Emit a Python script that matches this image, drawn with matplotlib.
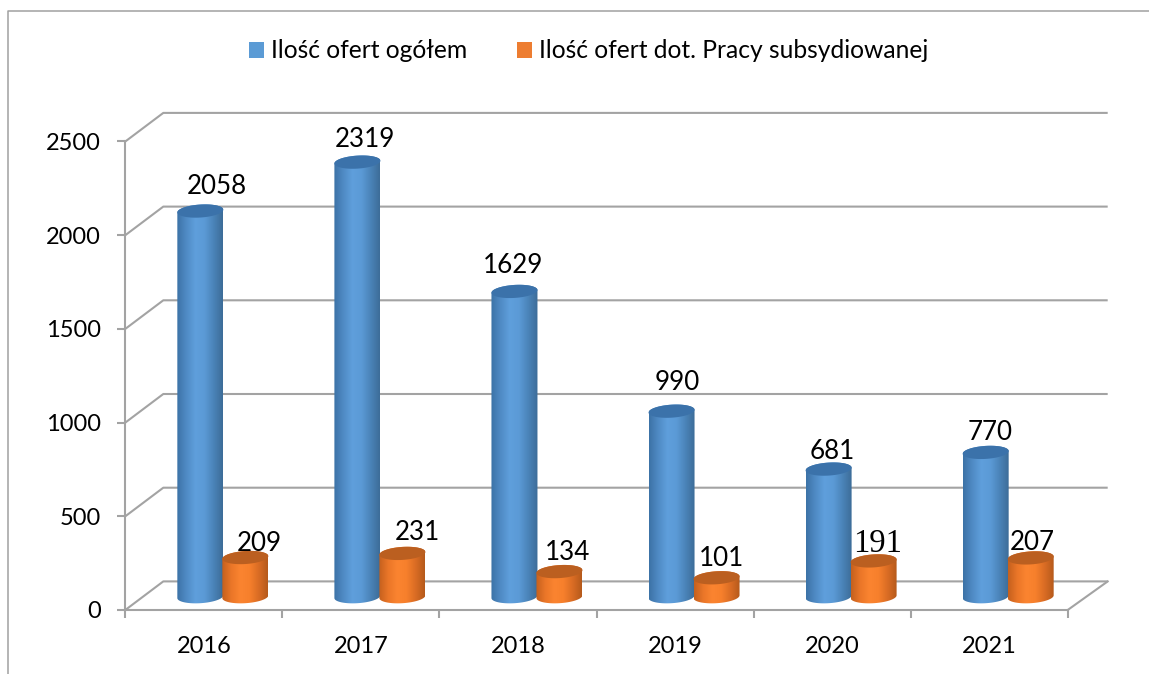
import numpy as np
import matplotlib
matplotlib.use("Agg")
import matplotlib.pyplot as plt
from matplotlib.colors import LinearSegmentedColormap
from matplotlib.lines import Line2D
from matplotlib.patches import Patch, Polygon

years = ["2016", "2017", "2018", "2019", "2020", "2021"]
total_offers = [2058, 2319, 1629, 990, 681, 770]
subsidised_offers = [209, 231, 134, 101, 191, 207]
y_ticks = [0, 500, 1000, 1500, 2000, 2500]
series_names = ["Ilość ofert ogółem", "Ilość ofert dot. Pracy subsydiowanej"]

total_label_shift = [(16, 25), (8, 23), (-1, 26), (6, 29), (4, 18), (4, 20)]
subs_label_shift = [(14, 14), (15, 21), (8, 19), (5, 19), (4, 17), (2, 15)]

W, H = 1149, 674
plt.rcParams["font.family"] = ["Lato", "DejaVu Sans"]
GREY = "#a3a3a3"
fig = plt.figure(figsize=(W / 100, H / 100), dpi=100, facecolor="white")
L, R, T, B = 125.3, 1067.7, 141.5, 610
ax = fig.add_axes([L / W, 1 - B / H, (R - L) / W, (B - T) / H], facecolor="none")
ax.set_xlim(-0.5, 5.5)
ax.set_ylim(0, 2500)
xpx = (R - L) / 6
ypx = (B - T) / 2500
DXL, DXR, DY = 38 / xpx, 40 / xpx, 28.6 / ypx

# back wall, floor
for v in y_ticks:
    xs = [-0.5, -0.5 + DXL, 5.5 + DXR]
    ys = [v, v + DY, v + DY]
    ax.plot(xs, ys, color=GREY, lw=1.5, clip_on=False, zorder=1, solid_capstyle="butt")
ax.plot([5.5, 5.5 + DXR], [0, DY], color=GREY, lw=1.5, clip_on=False, zorder=1)

for s in ("top", "right"):
    ax.spines[s].set_visible(False)
for s in ("left", "bottom"):
    ax.spines[s].set_color(GREY)
    ax.spines[s].set_linewidth(1.5)
    ax.spines[s].set_zorder(1)

ax.set_yticks(y_ticks)
ax.set_xticks(np.arange(-0.5, 6, 1))
ax.set_xticklabels([])
ax.set_xticks(np.arange(6), labels=years, minor=True)
ax.tick_params(axis="both", which="major", color=GREY, width=1.5, length=5.8)
ax.tick_params(axis="y", labelsize=17, pad=12, labelcolor="black")
ax.tick_params(axis="x", which="minor", length=0, pad=18.5, labelsize=17, labelcolor="black")

blue_map = LinearSegmentedColormap.from_list("b", ["#3c72a6", "#4f8ac4", "#5f9fdc", "#5b9ad6", "#4a83b8", "#3d6c98"])
orange_map = LinearSegmentedColormap.from_list("o", ["#c4601e", "#ea7628", "#fb8430", "#f7802c", "#d96c24", "#b55a1b"])
GRAD = np.linspace(0, 1, 256).reshape(1, -1)
A, BB, SHEAR = 23.0, 6.5, 0.06
tt = np.linspace(0, np.pi, 60)
FOOT = DY / 2 - 1 / ypx


def ell(cx, v, t):
    return (cx + A * np.cos(t) / xpx,
            v + (BB * np.sin(t) + A * SHEAR * np.cos(t)) / ypx)


def cylinder(cx, v, cmap, top_colour, z):
    bx, by = ell(cx, FOOT, tt + np.pi)       # lower half of the foot, left to right
    ux, uy = ell(cx, FOOT + v, tt)           # upper half of the top, right to left
    body = Polygon(np.c_[np.r_[bx, ux], np.r_[by, uy]], closed=True, fc="none", ec="none",
                   transform=ax.transData, zorder=z)
    ax.add_patch(body)
    im = ax.imshow(GRAD, cmap=cmap, aspect="auto", zorder=z, interpolation="bilinear",
                   extent=(cx - A / xpx, cx + A / xpx, FOOT - 12 / ypx, FOOT + v + 12 / ypx),
                   clip_on=True)
    im.set_clip_path(body)
    tx, ty = ell(cx, FOOT + v, np.linspace(0, 2 * np.pi, 120))
    ax.fill(tx, ty, color=top_colour, lw=0, zorder=z + 0.1, clip_on=False)


cx0 = 19 / xpx
gap = 22.5 / xpx
for i in range(6):
    cylinder(i + cx0 - gap, total_offers[i], blue_map, "#3b72aa", 3 + i)
for i in range(6):
    cylinder(i + cx0 + gap, subsidised_offers[i], orange_map, "#bb5f20", 3.5 + i)
ax.set_xlim(-0.5, 5.5)
ax.set_ylim(0, 2500)

for i in range(6):
    sx, sy = total_label_shift[i]
    ax.annotate(str(total_offers[i]), (i + cx0 - gap, FOOT + total_offers[i]), xytext=(sx, sy),
                textcoords="offset pixels", ha="center", va="center", fontsize=18.7, zorder=20,
                annotation_clip=False)
    sx, sy = subs_label_shift[i]
    kw = dict(family="Liberation Serif", fontsize=23.5) if years[i] == "2020" else dict(fontsize=18.7)
    ax.annotate(str(subsidised_offers[i]), (i + cx0 + gap, FOOT + subsidised_offers[i]), xytext=(sx, sy),
                textcoords="offset pixels", ha="center", va="center", zorder=20,
                annotation_clip=False, **kw)

handles = [Patch(fc="#5b9bd5", ec="none", label=series_names[0]),
           Patch(fc="#ed7d31", ec="none", label=series_names[1])]
fig.legend(handles=handles, ncol=2, loc="center", bbox_to_anchor=(588.5 / W, 1 - 51 / H), frameon=False,
           fontsize=17.7, handlelength=0.62, handleheight=0.62, handletextpad=0.3, columnspacing=2.0,
           borderpad=0, borderaxespad=0)

# outer frame of the chart, open at right and bottom
fig.add_artist(Line2D([8 / W, 8 / W, 1], [0, 1 - 10.5 / H, 1 - 10.5 / H], color="#a0a0a0", lw=1.1))

fig.savefig("out.png", dpi=100)
